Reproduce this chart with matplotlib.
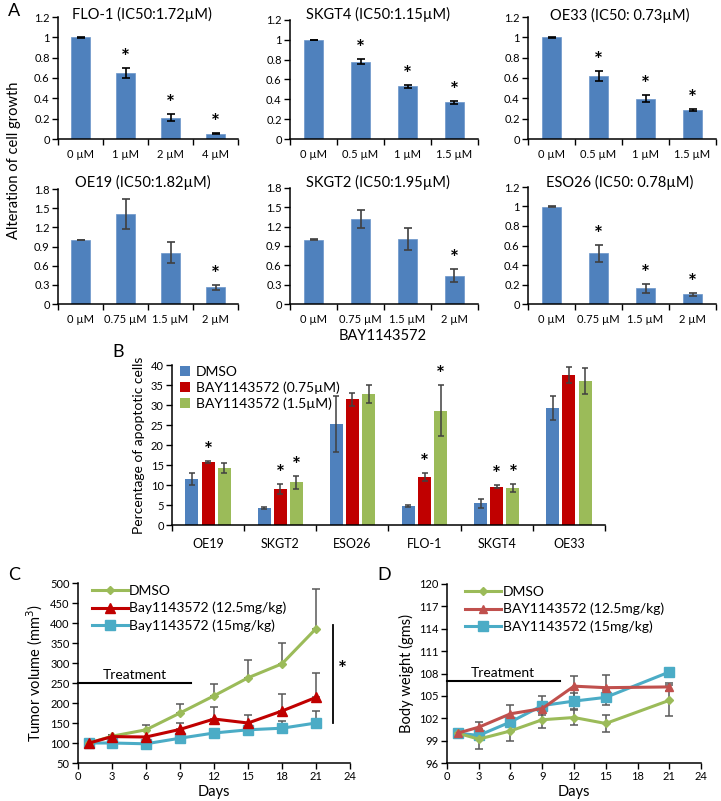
import matplotlib
matplotlib.use("Agg")
import matplotlib.pyplot as plt
import numpy as np
from matplotlib.ticker import FuncFormatter, MultipleLocator, FixedLocator

plt.rcParams['font.family'] = ['Lato', 'DejaVu Sans']

W, H = 721, 801

# ---------------- Panel A data ----------------
a_titles = ["FLO-1 (IC50:1.72\u00b5M)", "SKGT4 (IC50:1.15\u00b5M)", "OE33 (IC50: 0.73\u00b5M)",
            "OE19 (IC50:1.82\u00b5M)", "SKGT2 (IC50:1.95\u00b5M)", "ESO26 (IC50: 0.78\u00b5M)"]
a_doses_flo1 = ["0 \u00b5M", "1 \u00b5M", "2 \u00b5M", "4 \u00b5M"]
a_doses_skgt4 = ["0 \u00b5M", "0.5 \u00b5M", "1 \u00b5M", "1.5 \u00b5M"]
a_doses_oe33 = ["0 \u00b5M", "0.5 \u00b5M", "1 \u00b5M", "1.5 \u00b5M"]
a_doses_row2 = ["0 \u00b5M", "0.75 \u00b5M", "1.5 \u00b5M", "2 \u00b5M"]

a_flo1 = [1.0, 0.65, 0.21, 0.05]
a_flo1_err = [0.003, 0.05, 0.035, 0.005]
a_flo1_sig = [False, True, True, True]

a_skgt4 = [1.0, 0.78, 0.53, 0.37]
a_skgt4_err = [0.003, 0.025, 0.015, 0.015]
a_skgt4_sig = [False, True, True, True]

a_oe33 = [1.0, 0.62, 0.395, 0.29]
a_oe33_err = [0.003, 0.045, 0.035, 0.01]
a_oe33_sig = [False, True, True, True]

a_oe19 = [1.0, 1.41, 0.80, 0.26]
a_oe19_err = [0.005, 0.24, 0.165, 0.035]
a_oe19_sig = [False, False, False, True]

a_skgt2 = [1.0, 1.32, 1.01, 0.44]
a_skgt2_err = [0.005, 0.14, 0.165, 0.1]
a_skgt2_sig = [False, False, False, True]

a_eso26 = [1.0, 0.52, 0.16, 0.10]
a_eso26_err = [0.003, 0.085, 0.05, 0.015]
a_eso26_sig = [False, True, True, True]

# ---------------- Panel B data ----------------
b_lines = ["OE19", "SKGT2", "ESO26", "FLO-1", "SKGT4", "OE33"]
b_series = ["DMSO", "BAY1143572 (0.75\u00b5M)", "BAY1143572 (1.5\u00b5M)"]
b_dmso = [11.5, 4.2, 25.2, 4.75, 5.4, 29.3]
b_dmso_err = [1.4, 0.3, 7.0, 0.2, 1.2, 3.0]
b_low = [15.7, 9.0, 31.4, 12.1, 9.6, 37.5]
b_low_err = [0.25, 1.2, 1.7, 1.0, 0.4, 2.1]
b_high = [14.3, 10.7, 32.7, 28.6, 9.3, 36.0]
b_high_err = [1.3, 1.6, 2.2, 6.3, 1.0, 3.2]
b_low_sig = [True, True, False, True, True, False]
b_high_sig = [False, True, False, True, True, False]

# ---------------- Panel C data ----------------
c_days = [1, 3, 6, 9, 12, 15, 18, 21]
c_labels = ["DMSO", "Bay1143572 (12.5mg/kg)", "Bay1143572 (15mg/kg)"]
c_dmso = [100, 117, 133, 175, 218, 263, 298, 386]
c_dmso_err = [0, 3, 12, 22, 30, 44, 51, 100]
c_low = [100, 116, 115, 134, 160, 150, 180, 214]
c_low_err = [0, 4, 0, 16, 30, 21, 43, 60]
c_high = [100, 100, 98, 112, 125, 133, 137, 150]
c_high_err = [0, 0, 0, 4, 4, 4, 18, 30]

# ---------------- Panel D data ----------------
d_days = [1, 3, 6, 9, 12, 15, 21]
d_labels = ["DMSO", "BAY1143572 (12.5mg/kg)", "BAY1143572 (15mg/kg)"]
d_dmso = [100, 99.2, 100.3, 101.8, 102.1, 101.3, 104.4]
d_dmso_err = [0, 1.3, 1.3, 1.1, 1.0, 1.1, 2.1]
d_low = [100, 100.8, 102.6, 103.3, 106.3, 106.1, 106.2]
d_low_err = [0, 0.7, 1.2, 0.5, 1.4, 1.7, 0.5]
d_high = [100, 99.7, 101.5, 103.7, 104.3, 104.8, 108.2]
d_high_err = [0, 0.5, 0.6, 1.3, 1.1, 1.0, 0.5]

# colours
BLUE = "#4F81BD"
RED = "#C00000"
GREEN = "#9BBB59"
RED2 = "#C0504D"
CYAN = "#4BACC6"
ERRC = "#404040"

fig = plt.figure(figsize=(W / 100, H / 100), dpi=100)


def ax_px(x0, y0, x1, y1):
    return fig.add_axes([x0 / W, 1 - y1 / H, (x1 - x0) / W, (y1 - y0) / H])


def style(ax):
    for s in ["top", "right"]:
        ax.spines[s].set_visible(False)
    for s in ["left", "bottom"]:
        ax.spines[s].set_linewidth(1.1)
        ax.spines[s].set_color("black")


def fmt_num(v, pos):
    return "%g" % round(v, 3)


def bar_panel(box, title, title_xy, doses, vals, errs, sig, ymax, ystep, ecol):
    ax = ax_px(*box)
    style(ax)
    n = len(vals)
    x = np.arange(n)
    ax.bar(x, vals, width=0.41, color=BLUE, edgecolor="#6a95c9", linewidth=0.5, zorder=2)
    ax.errorbar(x, vals, yerr=errs, fmt="none", ecolor=ecol, elinewidth=1.2, capsize=3,
                capthick=1.2, zorder=3)
    for xi, v, e, s in zip(x, vals, errs, sig):
        if s:
            ax.annotate("*", xy=(xi, v + e), xytext=(0, 0), textcoords="offset points",
                        ha="center", va="bottom", fontsize=15, fontweight="bold")
    ax.set_xlim(-0.5, n - 0.5)
    ax.set_ylim(0, ymax)
    ax.yaxis.set_major_locator(MultipleLocator(ystep))
    ax.yaxis.set_major_formatter(FuncFormatter(fmt_num))
    ax.xaxis.set_major_locator(FixedLocator(np.arange(n + 1) - 0.5))
    ax.xaxis.set_major_formatter(FuncFormatter(lambda v, p: ""))
    ax.xaxis.set_minor_locator(FixedLocator(x))
    ax.set_xticklabels(doses, minor=True)
    ax.tick_params(axis="x", which="major", length=4, width=1.0, direction="out")
    ax.tick_params(axis="x", which="minor", length=0, pad=7, labelsize=8)
    ax.tick_params(axis="y", length=4, width=1.0, labelsize=8, pad=2)
    fig.text(title_xy[0] / W, 1 - title_xy[1] / H, title, ha="center", va="center", fontsize=10.5)
    return ax


bar_panel((58, 17, 238, 139), a_titles[0], (142, 14), a_doses_flo1, a_flo1, a_flo1_err, a_flo1_sig, 1.2, 0.2, "black")
bar_panel((290, 20, 478, 139), a_titles[1], (378, 14), a_doses_skgt4, a_skgt4, a_skgt4_err, a_skgt4_sig, 1.2, 0.2, "black")
bar_panel((528, 17, 716, 139), a_titles[2], (620, 15), a_doses_oe33, a_oe33, a_oe33_err, a_oe33_sig, 1.2, 0.2, "black")
bar_panel((58, 189, 238, 304), a_titles[3], (143, 182), a_doses_row2, a_oe19, a_oe19_err, a_oe19_sig, 1.8, 0.3, ERRC)
bar_panel((290, 188, 478, 304), a_titles[4], (378, 182), a_doses_row2, a_skgt2, a_skgt2_err, a_skgt2_sig, 1.8, 0.3, ERRC)
bar_panel((528, 187, 716, 304), a_titles[5], (620, 182), a_doses_row2, a_eso26, a_eso26_err, a_eso26_sig, 1.2, 0.2, ERRC)

fig.text(8 / W, 1 - 11 / H, "A", fontsize=13, ha="left", va="center")
fig.text(14 / W, 1 - 160 / H, "Alteration of cell growth", rotation=90, ha="center", va="center", fontsize=10.5)
fig.text(383 / W, 1 - 336 / H, "BAY1143572", ha="center", va="center", fontsize=10.5)

# ---------------- Panel B ----------------
axb = ax_px(172, 365, 605, 525)
style(axb)
xb = np.arange(len(b_lines))
bw = 0.18
off = 0.225
for k, (vals, errs, col) in enumerate([(b_dmso, b_dmso_err, BLUE), (b_low, b_low_err, RED), (b_high, b_high_err, GREEN)]):
    xs = xb + (k - 1) * off
    axb.bar(xs, vals, width=bw, color=col, label=b_series[k], zorder=2)
    axb.errorbar(xs, vals, yerr=errs, fmt="none", ecolor=ERRC, elinewidth=1.1, capsize=2.5,
                 capthick=1.1, zorder=3)
for xi, v, e, s in zip(xb, b_low, b_low_err, b_low_sig):
    if s:
        axb.annotate("*", xy=(xi, v + e), xytext=(0, 0), textcoords="offset points",
                     ha="center", va="bottom", fontsize=15, fontweight="bold")
for xi, v, e, s in zip(xb + off, b_high, b_high_err, b_high_sig):
    if s:
        axb.annotate("*", xy=(xi, v + e), xytext=(0, 0), textcoords="offset points",
                     ha="center", va="bottom", fontsize=15, fontweight="bold")
axb.set_xlim(-0.5, len(b_lines) - 0.5)
axb.set_ylim(0, 40)
axb.yaxis.set_major_locator(MultipleLocator(5))
axb.xaxis.set_major_locator(FixedLocator(np.arange(len(b_lines) + 1) - 0.5))
axb.xaxis.set_major_formatter(FuncFormatter(lambda v, p: ""))
axb.xaxis.set_minor_locator(FixedLocator(xb))
axb.set_xticklabels(b_lines, minor=True)
axb.tick_params(axis="x", which="major", length=4, width=1.0)
axb.tick_params(axis="x", which="minor", length=0, pad=9, labelsize=9)
axb.tick_params(axis="y", length=4, width=1.0, labelsize=8, pad=2)
axb.set_ylabel("Percentage of apoptotic cells", fontsize=10, labelpad=4)
leg = axb.legend(loc="upper left", bbox_to_anchor=(0.005, 1.03), frameon=False, fontsize=10,
                 handlelength=0.75, handleheight=0.75, handletextpad=0.4, labelspacing=0.25,
                 borderaxespad=0)
fig.text(118 / W, 1 - 352 / H, "B", fontsize=13, ha="center", va="center")

# ---------------- Panel C ----------------
axc = ax_px(78, 583, 350, 763)
style(axc)
z = [0] * len(c_days)
axc.errorbar(c_days, c_dmso, yerr=[z, c_dmso_err], fmt="none", ecolor="#595959", elinewidth=1.1, capsize=3, capthick=1.1, zorder=2)
axc.errorbar(c_days, c_low, yerr=[z, c_low_err], fmt="none", ecolor="#595959", elinewidth=1.1, capsize=3, capthick=1.1, zorder=2)
axc.errorbar(c_days, c_high, yerr=[z, c_high_err], fmt="none", ecolor="#595959", elinewidth=1.1, capsize=3, capthick=1.1, zorder=2)
axc.plot(c_days, c_dmso, color=GREEN, marker="D", markersize=4.5, linewidth=2.2, label=c_labels[0], zorder=4)
axc.plot(c_days, c_low, color=RED, marker="^", markersize=6.5, linewidth=2.2, label=c_labels[1], zorder=4)
axc.plot(c_days, c_high, color=CYAN, marker="s", markersize=6.5, linewidth=2.2, label=c_labels[2], zorder=3)
axc.set_xlim(0, 24)
axc.set_ylim(50, 500)
axc.xaxis.set_major_locator(MultipleLocator(3))
axc.yaxis.set_major_locator(MultipleLocator(50))
axc.tick_params(length=4, width=1.0, labelsize=8, pad=2)
axc.set_xlabel("Days", fontsize=10.5, labelpad=2)
axc.set_ylabel("Tumor volume (mm$^3$)", fontsize=10.5, labelpad=4)
axc.plot([0, 10], [250, 250], color="black", linewidth=1.5, clip_on=False)
axc.text(5.0, 256, "Treatment", ha="center", va="bottom", fontsize=10)
axc.plot([22.5, 22.5], [150, 396], color="black", linewidth=1.3, clip_on=False)
axc.text(23.3, 283, "*", ha="center", va="center", fontsize=15, fontweight="bold")
axc.legend(loc="upper left", bbox_to_anchor=(0.03, 1.02), frameon=False, fontsize=10,
           handlelength=2.6, handletextpad=0.1, labelspacing=0.35, borderaxespad=0)
fig.text(8 / W, 1 - 575 / H, "C", fontsize=13, ha="left", va="center")

# ---------------- Panel D ----------------
axd = ax_px(447, 584, 701, 763)
style(axd)
axd.errorbar(d_days, d_dmso, yerr=d_dmso_err, fmt="none", ecolor="#595959", elinewidth=1.1, capsize=3, capthick=1.1, zorder=2)
axd.errorbar(d_days, d_low, yerr=d_low_err, fmt="none", ecolor="#595959", elinewidth=1.1, capsize=3, capthick=1.1, zorder=2)
axd.errorbar(d_days, d_high, yerr=d_high_err, fmt="none", ecolor="#595959", elinewidth=1.1, capsize=3, capthick=1.1, zorder=2)
axd.plot(d_days, d_dmso, color=GREEN, marker="D", markersize=4.5, linewidth=2.2, label=d_labels[0], zorder=4)
axd.plot(d_days, d_low, color=RED2, marker="^", markersize=6, linewidth=2.2, label=d_labels[1], zorder=4)
axd.plot(d_days, d_high, color=CYAN, marker="s", markersize=7, linewidth=2.2, label=d_labels[2], zorder=3)
axd.set_xlim(0, 24)
axd.set_ylim(96, 120)
axd.xaxis.set_major_locator(MultipleLocator(3))
axd.yaxis.set_major_locator(MultipleLocator(3))
axd.tick_params(length=4, width=1.0, labelsize=8, pad=2)
axd.set_xlabel("Days", fontsize=10.5, labelpad=2)
axd.set_ylabel("Body weight (gms)", fontsize=10.5, labelpad=4)
axd.plot([0, 10.7], [107, 107], color="black", linewidth=1.5, clip_on=False)
axd.text(5.3, 107.3, "Treatment", ha="center", va="bottom", fontsize=10)
axd.legend(loc="upper left", bbox_to_anchor=(0.05, 1.02), frameon=False, fontsize=10,
           handlelength=2.6, handletextpad=0.1, labelspacing=0.35, borderaxespad=0)
fig.text(377 / W, 1 - 575 / H, "D", fontsize=13, ha="left", va="center")

fig.savefig("out.png", dpi=100)
